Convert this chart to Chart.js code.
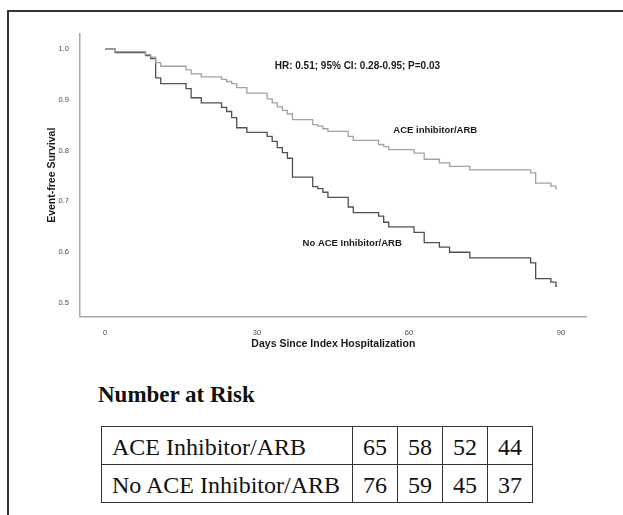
<!DOCTYPE html>
<html>
<head>
<meta charset="utf-8">
<script src="https://cdn.jsdelivr.net/npm/chart.js@4/dist/chart.umd.min.js"></script>
<style>
  html, body { margin: 0; padding: 0; background: #fff; }
  body { width: 623px; height: 515px; position: relative; overflow: hidden; }
  #frame { position: absolute; left: 7px; top: 10px; width: 800px; height: 700px;
           border-left: 2px solid #333; border-top: 2px solid #333; }
  #chartWrap { position: absolute; left: 0; top: 0; width: 623px; height: 360px; }
  #riskTitle { position: absolute; left: 98px; top: 380px; margin: 0;
               font: bold 23px "Liberation Serif", "Times New Roman", serif; color: #111; line-height: 30px; }
  #riskTable { position: absolute; left: 101px; top: 426px; border-collapse: collapse; table-layout: fixed;
               font: 24px "Liberation Serif", "Times New Roman", serif; color: #111; }
  #riskTable td { border: 1.5px solid #333; padding: 3px 0 0 0; height: 38px; text-align: center; line-height: 26px; box-sizing: border-box; }
  #riskTable td.lab { text-align: left; padding-left: 10px; width: 251px; }
  #riskTable td.num { width: 45px; }
</style>
</head>
<body>
<div id="frame"></div>
<div id="chartWrap"><canvas id="c" width="623" height="360"></canvas></div>
<div id="riskTitle">Number at Risk</div>
<table id="riskTable"></table>
<script>
// ---- data ----
const days = [0, 2, 8, 9, 10, 11, 16, 17, 19, 23, 24, 25, 26, 28, 32, 33, 34, 35, 36, 37,
              41, 42, 43, 44, 48, 49, 54, 55, 56, 61, 63, 66, 68, 72, 84, 85, 88, 89, 89.2];
const aceSurvival = [1.000, 0.995, 0.989, 0.984, 0.973, 0.966, 0.959, 0.951, 0.945, 0.940, 0.936, 0.932, 0.924, 0.913,
                     0.902, 0.894, 0.886, 0.879, 0.872, 0.861, 0.851, 0.848, 0.843, 0.838, 0.828, 0.820,
                     0.812, 0.808, 0.802, 0.795, 0.783, 0.776, 0.769, 0.762, 0.756, 0.736, 0.730, 0.725, 0.725];
const noAceSurvival = [1.000, 0.993, 0.987, 0.981, 0.943, 0.932, 0.922, 0.904, 0.894, 0.885, 0.877, 0.865, 0.845, 0.836,
                       0.828, 0.818, 0.806, 0.796, 0.785, 0.748, 0.729, 0.725, 0.718, 0.708, 0.689, 0.678,
                       0.671, 0.659, 0.650, 0.639, 0.619, 0.610, 0.600, 0.589, 0.579, 0.548, 0.541, 0.533, 0.533];
const xTicks = [0, 30, 60, 90];
const yTicks = [0.5, 0.6, 0.7, 0.8, 0.9, 1.0];
const seriesNames = ['ACE inhibitor/ARB', 'No ACE Inhibitor/ARB'];
const hrText = 'HR: 0.51; 95% CI: 0.28-0.95; P=0.03';
const annotations = [
  { text: hrText, x: 33.5, y: 0.967, size: 10 },
  { text: seriesNames[0], x: 56.9, y: 0.839, size: 9.5 },
  { text: seriesNames[1], x: 39.0, y: 0.617, size: 9.5 }
];
const riskGroups = ['ACE Inhibitor/ARB', 'No ACE Inhibitor/ARB'];
const aceRisk = [65, 58, 52, 44];
const noAceRisk = [76, 59, 45, 37];

// ---- risk table ----
const tbl = document.getElementById('riskTable');
[aceRisk, noAceRisk].forEach((row, i) => {
  const tr = document.createElement('tr');
  const l = document.createElement('td'); l.className = 'lab'; l.textContent = riskGroups[i]; tr.appendChild(l);
  row.forEach(v => { const td = document.createElement('td'); td.className = 'num'; td.textContent = v; tr.appendChild(td); });
  tbl.appendChild(tr);
});

// ---- chart ----
const toPts = arr => days.map((d, i) => ({ x: d, y: arr[i] }));
const fam = '"Liberation Sans", Arial, sans-serif';

const annotPlugin = {
  id: 'annot',
  afterDatasetsDraw(chart) {
    const { ctx, scales } = chart;
    ctx.save();
    ctx.fillStyle = '#1a1a1a';
    ctx.textAlign = 'left';
    ctx.textBaseline = 'middle';
    annotations.forEach(a => {
      ctx.font = 'bold ' + a.size + 'px ' + fam;
      ctx.fillText(a.text, scales.x.getPixelForValue(a.x), scales.y.getPixelForValue(a.y));
    });
    ctx.restore();
  }
};

new Chart(document.getElementById('c'), {
  type: 'line',
  data: {
    datasets: [
      { label: seriesNames[0], data: toPts(aceSurvival), borderColor: '#a2a2a2', borderWidth: 1.3,
        stepped: 'before', pointRadius: 0, fill: false },
      { label: seriesNames[1], data: toPts(noAceSurvival), borderColor: '#505050', borderWidth: 1.3,
        stepped: 'before', pointRadius: 0, fill: false }
    ]
  },
  options: {
    responsive: false,
    animation: false,
    devicePixelRatio: 1,
    layout: { padding: { top: 34, right: 36.3, left: 0, bottom: 0 } },
    plugins: { legend: { display: false }, tooltip: { enabled: false } },
    scales: {
      x: {
        type: 'linear', min: -4.93, max: 95.07,
        afterBuildTicks: s => { s.ticks = xTicks.map(v => ({ value: v })); },
        afterFit: s => { s.height = 43.5; },
        grid: { display: false },
        border: { display: true, color: '#a9a9a9', width: 1.5 },
        ticks: { padding: 4, color: '#4a4a4a', font: { size: 7.5, family: fam }, maxRotation: 0, autoSkip: false },
        title: { display: true, text: 'Days Since Index Hospitalization', color: '#1a1a1a',
                 font: { size: 10.5, weight: 'bold', family: fam }, padding: { top: 0, bottom: 9.7 } }
      },
      y: {
        type: 'linear', min: 0.4735, max: 1.0295,
        afterBuildTicks: s => { s.ticks = yTicks.map(v => ({ value: v })); },
        afterFit: s => { s.width = 80; },
        grid: { display: false },
        border: { display: true, color: '#a9a9a9', width: 1.5 },
        ticks: { padding: 3, color: '#4a4a4a', font: { size: 7.5, family: fam }, autoSkip: false,
                 callback: v => Number(v).toFixed(1) },
        title: { display: true, text: 'Event-free Survival', color: '#1a1a1a',
                 font: { size: 10.5, weight: 'bold', family: fam }, padding: { top: 45.7, bottom: 0 } }
      }
    }
  },
  plugins: [annotPlugin]
});
</script>
</body>
</html>
